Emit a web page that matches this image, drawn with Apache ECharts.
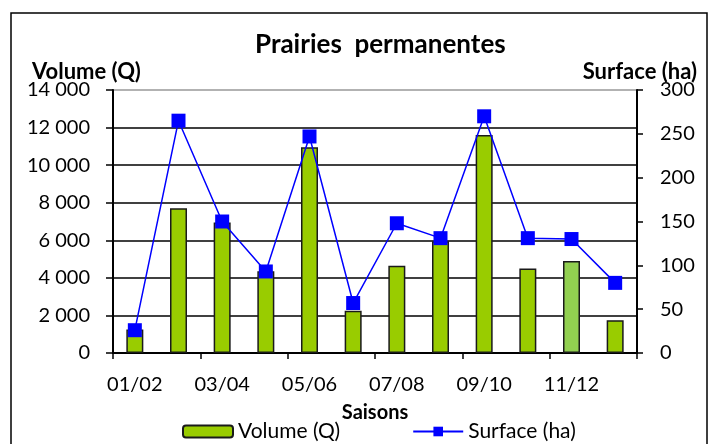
<!DOCTYPE html>
<html lang="fr">
<head>
    <meta charset="UTF-8">
    <title>Prairies permanentes</title>
    <script src="https://cdn.jsdelivr.net/npm/echarts@6/dist/echarts.min.js"></script>
    <style type="text/css">
        html, body { margin: 0; padding: 0; background: #fff; }
        #box { width: 714px; height: 444px; }
    </style>
</head>
<body>
    <div id="box"></div>
<script>
    // saisons (une étiquette sur deux affichée)
    var saisons = ['01/02', '02/03', '03/04', '04/05', '05/06', '06/07',
                   '07/08', '08/09', '09/10', '10/11', '11/12', '12/13'];
    // volume en quintaux
    var volume = [1250, 7700, 6950, 4350, 10950, 2250, 4650, 5950, 11600, 4500, 4900, 1750];
    // surface en hectares
    var surface = [26, 265, 150, 93, 247, 57, 148, 131, 270, 131, 130, 80];

    var police = 'Lato';

    var mychart = echarts.init(document.getElementById('box'));

    var barres = volume.map(function (v, i) {
        // la saison 11/12 est d'un vert plus clair
        if (i === 10) return { value: v, itemStyle: { color: '#92D050' } };
        return v;
    });

    mychart.setOption({
        animation: false,
        textStyle: { fontFamily: police, color: '#000' },
        title: [
            { text: 'Prairies  permanentes', left: 250, top: 27,
              textStyle: { fontFamily: police, fontSize: 26, fontWeight: 'bold', color: '#000' } },
            { text: 'Volume (Q)', left: 27, top: 56,
              textStyle: { fontFamily: police, fontSize: 22, fontWeight: 'bold', color: '#000' } },
            { text: 'Surface (ha)', right: 12, top: 56,
              textStyle: { fontFamily: police, fontSize: 22, fontWeight: 'bold', color: '#000' } }
        ],
        graphic: [{
            type: 'rect',
            shape: { x: 11, y: 13, width: 696, height: 440 },
            style: { fill: null, stroke: '#000', lineWidth: 1.5 },
            silent: true
        }],
        legend: {
            bottom: -3,
            left: 177,
            itemWidth: 50,
            itemHeight: 12,
            itemGap: 72,
            textStyle: { fontFamily: police, fontSize: 21, color: '#000' },
            data: ['Volume (Q)', 'Surface (ha)']
        },
        grid: { left: 113, right: 77, top: 90, bottom: 91 },
        xAxis: {
            type: 'category',
            data: saisons,
            name: 'Saisons',
            nameLocation: 'middle',
            nameGap: 50,
            nameTextStyle: { fontFamily: police, fontSize: 20, fontWeight: 'bold', color: '#000' },
            axisLine: { lineStyle: { color: '#000', width: 2 } },
            axisTick: { show: true, length: 6, lineStyle: { color: '#000', width: 1.5 } },
            axisLabel: { interval: 1, margin: 22, fontSize: 20, color: '#000', fontFamily: police }
        },
        yAxis: [{
            type: 'value',
            min: 0, max: 14000, interval: 2000,
            axisLine: { show: true, lineStyle: { color: '#000', width: 2 } },
            axisTick: { show: true, length: 7, lineStyle: { color: '#000', width: 1.5 } },
            axisLabel: {
                margin: 23, fontSize: 20, color: '#000', fontFamily: police,
                formatter: function (v) { return String(v).replace(/\B(?=(\d{3})+(?!\d))/g, ' '); }
            },
            splitLine: { show: true, lineStyle: {
                color: ['#000', '#000', '#000', '#000', '#000', '#000', '#000', '#999'], width: 1.5 } }
        }, {
            type: 'value',
            min: 0, max: 300, interval: 50,
            position: 'right',
            axisLine: { show: true, lineStyle: { color: '#000', width: 2 } },
            axisTick: { show: true, length: 6, lineStyle: { color: '#000', width: 1.5 } },
            axisLabel: { margin: 23, fontSize: 20, color: '#000', fontFamily: police },
            splitLine: { show: false }
        }],
        series: [{
            name: 'Volume (Q)',
            type: 'bar',
            yAxisIndex: 0,
            barWidth: 17,
            data: barres,
            itemStyle: { color: '#99CC00', borderColor: '#1a1a1a', borderWidth: 1.5 }
        }, {
            name: 'Surface (ha)',
            type: 'line',
            yAxisIndex: 1,
            data: surface,
            symbol: 'rect',
            symbolSize: 14,
            lineStyle: { color: '#0000FF', width: 1.5 },
            itemStyle: { color: '#0000FF' }
        }]
    });
</script>
</body>
</html>
